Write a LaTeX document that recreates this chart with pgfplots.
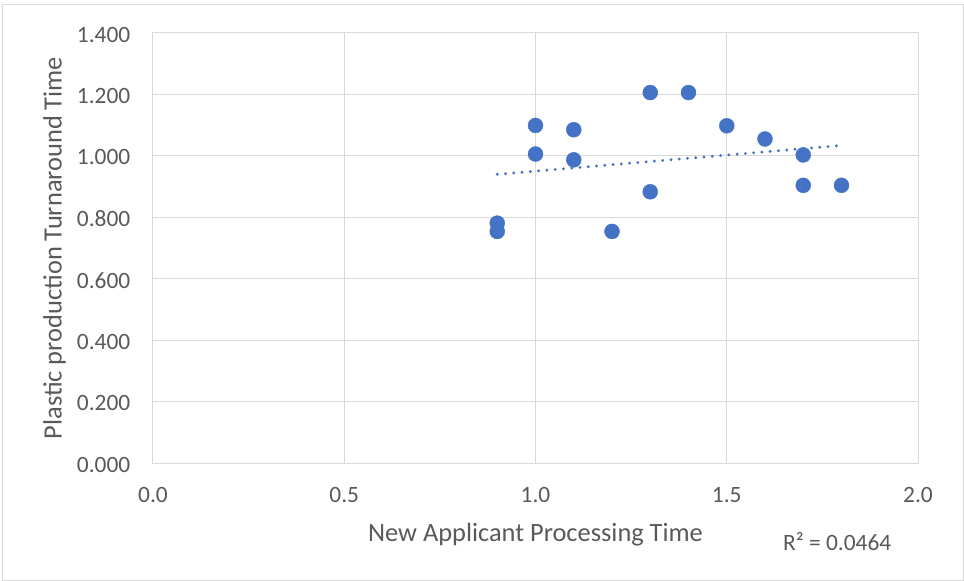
\documentclass[border=0pt]{standalone}
\usepackage{pgfplots}
\pgfplotsset{compat=1.18}
\usepackage{fontspec}
\setmainfont{Carlito}
\definecolor{txt}{HTML}{595959}
\definecolor{grd}{HTML}{D9D9D9}
\definecolor{blu}{HTML}{4472C4}
\begin{document}
\begin{tikzpicture}
\path[use as bounding box] (-153bp,-118bp) rectangle (811bp,463bp);
\draw[grd, line width=1bp] (-150.3bp,-117bp) rectangle (810bp,458bp);
\begin{axis}[
  at={(0,0)}, anchor=south west,
  scale only axis, width=765bp, height=430bp,
  xmin=0, xmax=2, ymin=0, ymax=1.4,
  xtick={0,0.5,1,1.5,2},
  ytick={0,0.2,0.4,0.6,0.8,1.0,1.2,1.4},
  /pgf/number format/assume math mode=true,
  xticklabel style={/pgf/number format/fixed, /pgf/number format/fixed zerofill, /pgf/number format/precision=1,
    anchor=base, inner sep=0pt, yshift=-39bp, font=\fontsize{23.5}{28}\selectfont, text=txt},
  yticklabel style={/pgf/number format/fixed, /pgf/number format/fixed zerofill, /pgf/number format/precision=3,
    anchor=east, inner sep=0pt, xshift=-22.5bp, yshift=-1.5bp, font=\fontsize{23.5}{28}\selectfont, text=txt},
  major tick length=0pt,
  tick style={draw=none},
  grid=major,
  grid style={grd, line width=1bp},
  axis line style={grd, line width=1bp},
  xlabel={New Applicant Processing Time},
  ylabel={Plastic production Turnaround Time},
  xlabel style={at={(axis description cs:0.5,-0.1826)}, anchor=base, inner sep=0pt, font=\fontsize{26.5}{31}\selectfont, text=txt},
  ylabel style={at={(axis description cs:-0.1193,0.5)}, anchor=base, inner sep=0pt, font=\fontsize{26.5}{31}\selectfont, text=txt},
  clip=false,
]
\addplot[only marks, mark=*, mark size=7.5bp, mark options={fill=blu, draw=blu}] coordinates {
  (0.9,0.781) (0.9,0.754)
  (1.0,1.099) (1.0,1.006)
  (1.1,1.085) (1.1,0.987)
  (1.2,0.754)
  (1.3,1.206) (1.3,0.883)
  (1.4,1.206)
  (1.5,1.098)
  (1.6,1.055)
  (1.7,1.003) (1.7,0.904)
  (1.8,0.904)
};
\addplot[blu, line width=3.2bp, line cap=round, dash pattern=on 0bp off 8.3bp, mark=none] coordinates {
  (0.9,0.9398) (1.8,1.0340)
};
\end{axis}
\node[anchor=base west, inner sep=0pt, text=txt, font=\fontsize{23.5}{28}\selectfont] at (630bp,-87bp) {R² = 0.0464};
\end{tikzpicture}
\end{document}
